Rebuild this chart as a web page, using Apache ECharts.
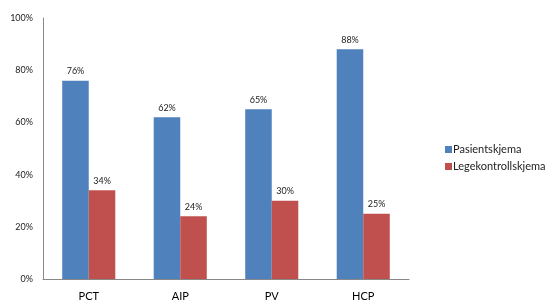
<!DOCTYPE html>
<html>
<head>
<meta charset="utf-8">
<script src="https://cdn.jsdelivr.net/npm/echarts@6/dist/echarts.min.js"></script>
<style>
  html, body { margin: 0; padding: 0; background: #fff; }
  #main { width: 546px; height: 302px; }
</style>
</head>
<body>
<div id="main"></div>
<script>
// data
var categories = ['PCT', 'AIP', 'PV', 'HCP'];
var pasient = [76, 62, 65, 88];
var lege = [34, 24, 30, 25];
var seriesNames = ['Pasientskjema', 'Legekontrollskjema'];

var myChart = echarts.init(document.getElementById('main'));

var labelStyle = {
    show: true,
    position: 'top',
    distance: 5,
    color: '#222',
    fontSize: 9,
    fontFamily: 'Lato',
    formatter: '{c}%'
};

var option = {
    animation: false,
    textStyle: { fontFamily: 'Lato' },
    grid: { left: 43, right: 137, top: 18, bottom: 23 },
    legend: {
        orient: 'vertical',
        left: 440,
        top: 139,
        itemWidth: 7,
        itemHeight: 7,
        itemGap: 6,
        icon: 'rect',
        textStyle: { fontSize: 11, color: '#222', padding: [0, 0, 0, -4] },
        data: seriesNames
    },
    xAxis: {
        type: 'category',
        data: categories,
        axisLine: { lineStyle: { color: '#888', width: 1 } },
        axisTick: { show: false },
        axisLabel: { color: '#000', fontSize: 11, margin: 12 }
    },
    yAxis: {
        type: 'value',
        min: 0,
        max: 100,
        interval: 20,
        axisLine: { show: true, lineStyle: { color: '#888', width: 1 } },
        axisTick: { show: false },
        splitLine: { show: false },
        axisLabel: { color: '#222', fontSize: 9, margin: 10, formatter: '{value}%' }
    },
    series: [
        {
            name: seriesNames[0],
            type: 'bar',
            barWidth: '29%',
            barGap: '0%',
            itemStyle: { color: '#4F81BD' },
            label: labelStyle,
            data: pasient
        },
        {
            name: seriesNames[1],
            type: 'bar',
            barWidth: '29%',
            barGap: '0%',
            itemStyle: { color: '#C0504D' },
            label: labelStyle,
            data: lege
        }
    ]
};

myChart.setOption(option);
</script>
</body>
</html>
